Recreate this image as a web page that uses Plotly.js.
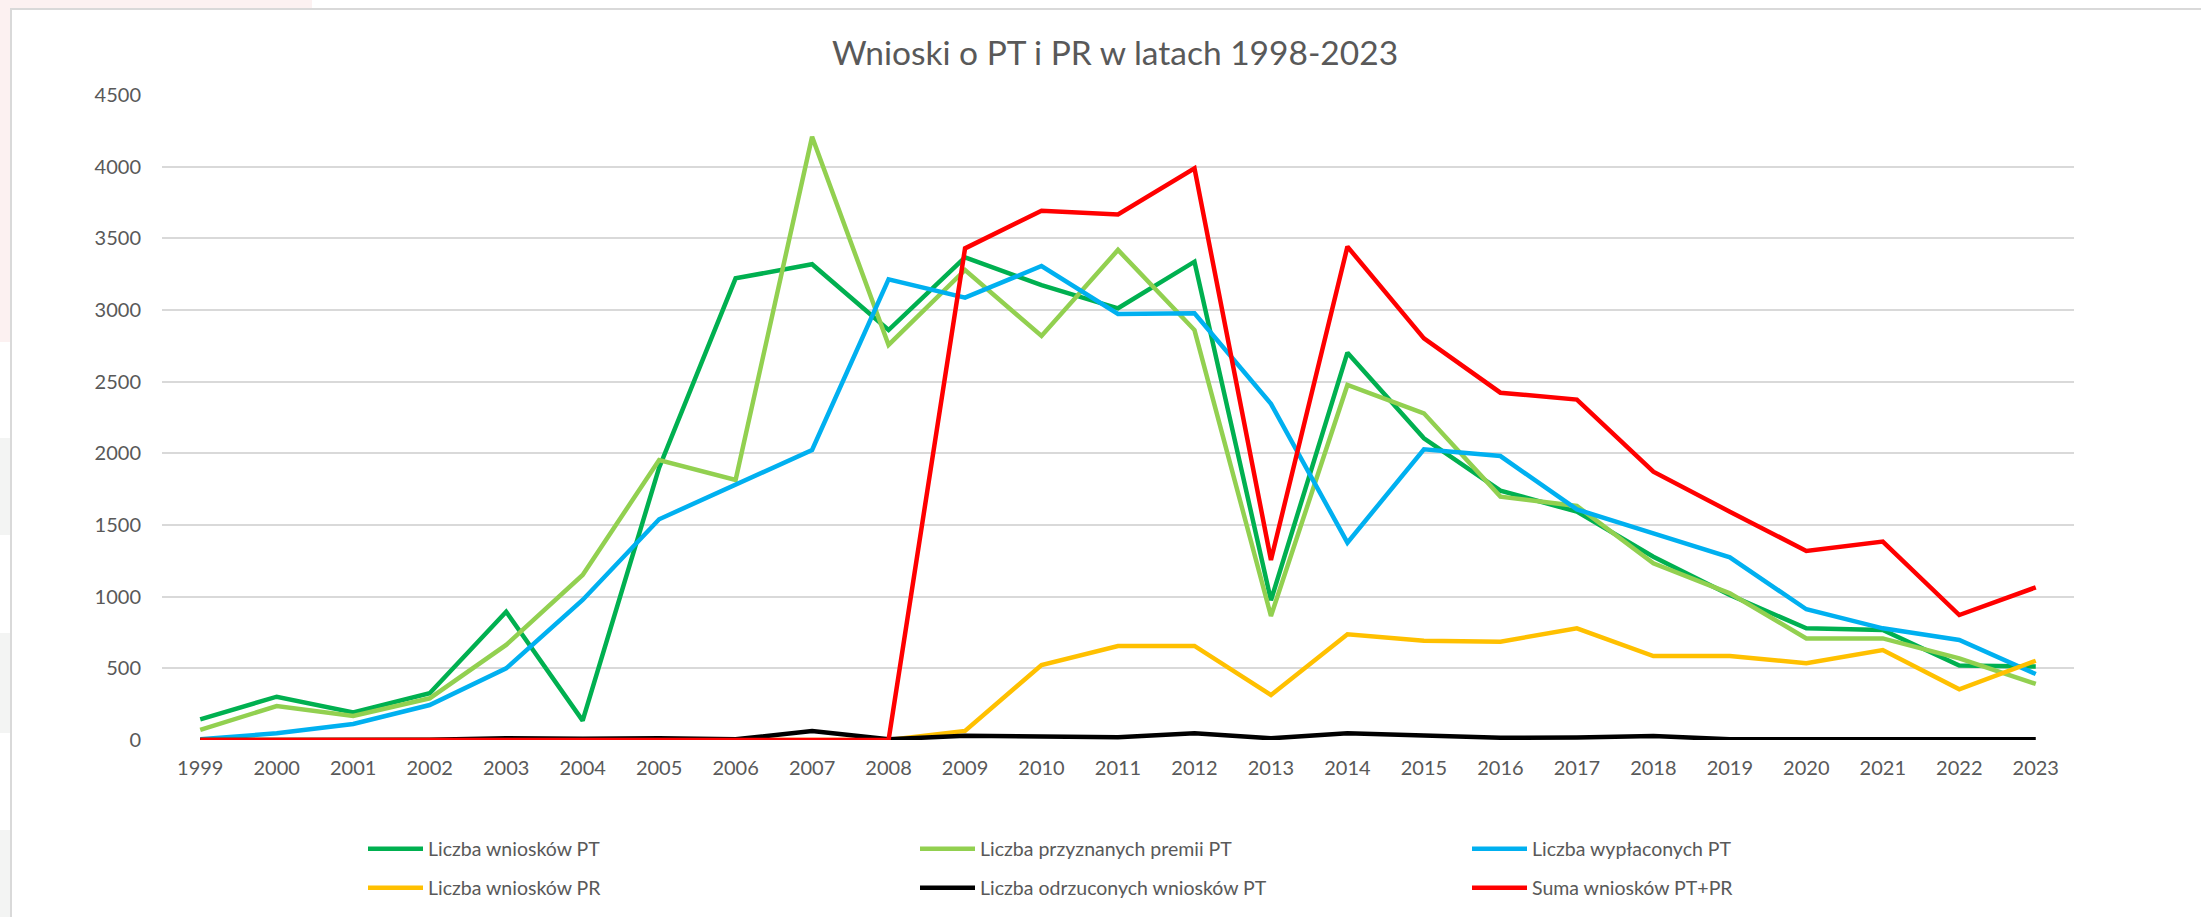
<!DOCTYPE html>
<html>
<head>
<meta charset="utf-8">
<script src="https://cdn.plot.ly/plotly-3.0.1.min.js"></script>
<style>
html, body { margin: 0; padding: 0; background: #ffffff; }
#chart { width: 2201px; height: 917px; }
</style>
</head>
<body>
<div id="chart"></div>
<script>
const years = ['1999','2000','2001','2002','2003','2004','2005','2006','2007','2008','2009','2010','2011','2012','2013','2014','2015','2016','2017','2018','2019','2020','2021','2022','2023'];

const wnioskiPT   = [144, 302, 193, 326, 895, 135, 1900, 3221, 3319, 2860, 3367, 3174, 3012, 3337, 975, 2702, 2105, 1740, 1593, 1279, 1012, 779, 767, 519, 512];
const przyznanePT = [70, 237, 167, 291, 663, 1151, 1953, 1814, 4209, 2756, 3279, 2819, 3419, 2860, 865, 2477, 2279, 1698, 1633, 1233, 1023, 709, 709, 570, 391];
const wyplaconePT = [5, 47, 112, 244, 500, 977, 1540, 1779, 2023, 3214, 3086, 3307, 2972, 2977, 2345, 1377, 2028, 1981, 1609, 1442, 1274, 912, 779, 698, 460];
const wnioskiPR   = [0, 0, 0, 0, 0, 0, 0, 0, 0, 0, 63, 523, 656, 656, 314, 737, 693, 686, 779, 586, 586, 535, 628, 354, 553];
const odrzucone   = [0, 0, 0, 2, 12, 8, 12, 5, 63, 5, 30, 25, 20, 47, 12, 47, 28, 16, 17, 28, 5, 5, 12, 5, 5];
const sumaPTPR    = [0, 0, 0, 0, 0, 0, 0, 0, 0, 0, 3430, 3693, 3667, 3988, 1256, 3442, 2802, 2423, 2375, 1872, 1593, 1319, 1384, 872, 1065];

const names = ['Liczba wniosków PT','Liczba przyznanych premii PT','Liczba wypłaconych PT','Liczba wniosków PR','Liczba odrzuconych wniosków PT','Suma wniosków PT+PR'];
const colors = ['#00B050','#92D050','#00B0F0','#FFC000','#000000','#FF0000'];
const series = [wnioskiPT, przyznanePT, wyplaconePT, wnioskiPR, odrzucone, sumaPTPR];
const legendOf = ['legend','legend','legend','legend2','legend2','legend2'];

const FONT = 'Lato, "Open Sans", sans-serif';
const TXT = '#595959';

const traces = series.map((s, i) => ({
  type: 'scatter',
  mode: 'lines',
  x: years,
  y: s,
  name: names[i],
  legend: legendOf[i],
  line: { color: colors[i], width: 4.5 },
  hoverinfo: 'x+y+name'
}));

const W = 2201, H = 917;
const legendCommon = {
  orientation: 'h',
  xref: 'container', yref: 'container',
  xanchor: 'left', yanchor: 'middle',
  x: 363 / W,
  entrywidth: 482, entrywidthmode: 'pixels',
  itemwidth: 55,
  bgcolor: 'rgba(0,0,0,0)',
  font: { family: FONT, size: 19.5, color: TXT },
  traceorder: 'normal'
};

const layout = {
  width: W, height: H,
  margin: { l: 162, r: 127, t: 95, b: 177 },
  paper_bgcolor: '#ffffff',
  plot_bgcolor: '#ffffff',
  font: { family: FONT, color: TXT },
  title: {
    text: 'Wnioski o PT i PR w latach 1998-2023',
    font: { family: FONT, size: 33.5, color: TXT },
    xref: 'container', yref: 'container',
    x: 1115 / W, xanchor: 'center',
    y: 1 - 53 / H, yanchor: 'middle'
  },
  xaxis: {
    type: 'category',
    range: [-0.5, 24.5],
    showgrid: false, zeroline: false, showline: false,
    ticks: '',
    tickfont: { family: FONT, size: 20, color: TXT },
    ticklabelstandoff: 14,
    fixedrange: true
  },
  yaxis: {
    range: [0, 4500],
    dtick: 500,
    tick0: 0,
    showgrid: true, gridcolor: '#d9d9d9', gridwidth: 2,
    zeroline: false, showline: false,
    ticks: '',
    tickfont: { family: FONT, size: 20, color: TXT },
    ticklabelstandoff: 20,
    fixedrange: true
  },
  legend: Object.assign({}, legendCommon, { y: 68 / H }),
  legend2: Object.assign({}, legendCommon, { y: 29 / H }),
  showlegend: true,
  shapes: [
    { type: 'rect', xref: 'paper', yref: 'paper', layer: 'below',
      x0: -162 / 1912, x1: 150 / 1912, y0: 1 + 95 / 645, y1: 1 + (95 - 342) / 645,
      fillcolor: '#fcf1f1', line: { width: 0 } },
    { type: 'rect', xref: 'paper', yref: 'paper', layer: 'below',
      x0: -162 / 1912, x1: -151 / 1912, y0: (740 - 438) / 645, y1: (740 - 535) / 645,
      fillcolor: '#f3f4f3', line: { width: 0 } },
    { type: 'rect', xref: 'paper', yref: 'paper', layer: 'below',
      x0: -162 / 1912, x1: -151 / 1912, y0: (740 - 633) / 645, y1: (740 - 733) / 645,
      fillcolor: '#f3f4f3', line: { width: 0 } },
    { type: 'rect', xref: 'paper', yref: 'paper', layer: 'below',
      x0: -162 / 1912, x1: -151 / 1912, y0: (740 - 830) / 645, y1: (740 - 917) / 645,
      fillcolor: '#f3f4f3', line: { width: 0 } },
    { type: 'rect', xref: 'paper', yref: 'paper', layer: 'below',
      x0: -151 / 1912, x1: (2205 - 162) / 1912, y0: 1 + (95 - 9) / 645, y1: (740 - 925) / 645,
      fillcolor: '#ffffff', line: { color: '#d9d9d9', width: 2 } }
  ]
};

Plotly.newPlot('chart', traces, layout, { displayModeBar: false, staticPlot: true });
</script>
</body>
</html>
